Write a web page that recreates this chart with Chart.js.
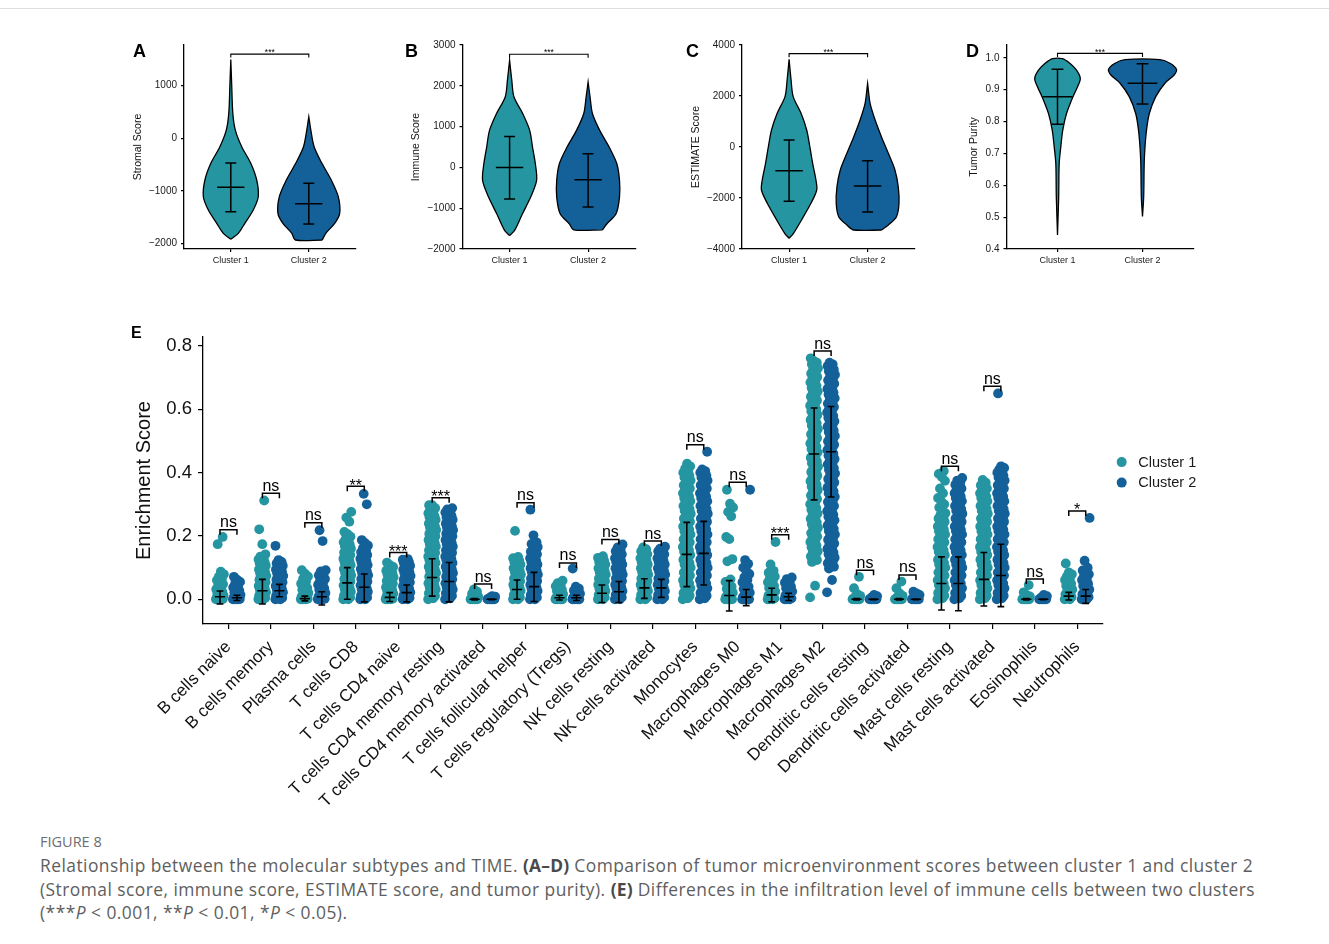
<!DOCTYPE html>
<html lang="en">
<head>
<meta charset="utf-8">
<title>Figure 8 – molecular subtypes and TIME</title>
<script src="https://cdn.jsdelivr.net/npm/chart.js@4.4.1/dist/chart.umd.min.js"></script>
<style>
  html, body { margin: 0; padding: 0; background: #fff; }
  body { position: relative; width: 1329px; height: 944px; overflow: hidden; font-family: "Liberation Sans", Arial, sans-serif; }
  .rule { position: absolute; left: 0; top: 8px; width: 1329px; border-top: 1px solid #dedede; }
  canvas { position: absolute; }
  .tag { position: absolute; font-weight: bold; font-size: 18px; line-height: 18px; color: #000; }
  .tag.big { font-size: 16px; line-height: 16px; }
  .figno { position: absolute; left: 40px; top: 834px; font-family: "Open Sans", sans-serif; font-size: 14.5px; line-height: 16px; color: #6d6e71; }
  .caption { position: absolute; left: 40px; top: 854px; font-family: "Open Sans", sans-serif; font-size: 17.4px; letter-spacing: 0.46px; line-height: 23.7px; color: #5e5e5e; white-space: nowrap; }
  .caption b { font-weight: 700; color: #4a4a4a; letter-spacing: 0.2px; }
</style>
</head>
<body>
<div class="rule"></div>

<canvas id="stromal"></canvas>
<canvas id="immune"></canvas>
<canvas id="estimate"></canvas>
<canvas id="purity"></canvas>
<canvas id="infiltration"></canvas>

<div class="tag" style="left:133px;top:42px">A</div>
<div class="tag" style="left:405px;top:42px">B</div>
<div class="tag" style="left:686px;top:42px">C</div>
<div class="tag" style="left:966px;top:42px">D</div>
<div class="tag big" style="left:131px;top:325px">E</div>

<div class="figno">FIGURE 8</div>
<div class="caption">Relationship between the molecular subtypes and TIME. <b>(A–D)</b> Comparison of tumor microenvironment scores between cluster 1 and cluster 2<br>(Stromal score, immune score, ESTIMATE score, and tumor purity). <b>(E)</b> Differences in the infiltration level of immune cells between two clusters<br>(***<i>P</i> &lt; 0.001, **<i>P</i> &lt; 0.01, *<i>P</i> &lt; 0.05).</div>

<script>
// ---------------------------------------------------------------------------
// Data
// ---------------------------------------------------------------------------
const groups = ['Cluster 1', 'Cluster 2'];

// A – Stromal score: violin outline (score level, relative density), mean ± SD
const stromalLevels1 = [1499, 1000, 474, 157, -159, -474, -791, -1108, -1360, -1613, -1803, -1917];
const stromalDensity1 = [0, .03, .065, .145, .35, .64, .83, .88, .72, .45, .24, 0];
const stromalLevels2 = [410, 157, -159, -474, -791, -1108, -1423, -1613, -1803, -1930];
const stromalDensity2 = [0, .065, .17, .42, .72, .945, .99, .83, .545, .43];
const stromalMean = [-930, -1241];
const stromalLow = [-1395, -1626];
const stromalHigh = [-468, -854];
const stromalTicks = [-2000, -1000, 0, 1000];

// B – Immune score
const immuneLevels1 = [2625, 2134, 1725, 1316, 908, 499, 90, -319, -728, -1137, -1545, -1668];
const immuneDensity1 = [0, .07, .14, .42, .64, .73, .82, .86, .67, .41, .16, 0];
const immuneLevels2 = [2093, 1725, 1316, 908, 499, 90, -319, -728, -1137, -1382, -1529];
const immuneDensity2 = [0, .063, .14, .37, .67, .915, 1.0, 1.0, .89, .6, .46];
const immuneMean = [0, -300];
const immuneLow = [-777, -973];
const immuneHigh = [760, 335];
const immuneTicks = [-2000, -1000, 0, 1000, 2000, 3000];

// C – ESTIMATE score
const estimateLevels1 = [3438, 2627, 1974, 1320, 667, 13, -641, -1294, -1686, -2209, -2863, -3386, -3582];
const estimateDensity1 = [0, .063, .13, .38, .56, .66, .75, .855, .88, .695, .395, .14, 0];
const estimateLevels2 = [2497, 1712, 1059, 405, -248, -902, -1556, -2209, -2732, -3059, -3255];
const estimateDensity2 = [0, .08, .24, .44, .66, .87, .975, 1.0, .92, .66, .44];
const estimateMean = [-928, -1529];
const estimateLow = [-2131, -2549];
const estimateHigh = [275, -536];
const estimateTicks = [-4000, -2000, 0, 2000, 4000];

// D – Tumor purity
const purityLevels1 = [0.997, 0.982, 0.961, 0.935, 0.909, 0.878, 0.825, 0.773, 0.721, 0.669, 0.564, 0.444];
const purityDensity1 = [.14, .37, .56, .67, .59, .455, .265, .155, .098, .05, .035, 0];
const purityLevels2 = [0.994, 0.982, 0.963, 0.946, 0.92, 0.878, 0.825, 0.773, 0.721, 0.669, 0.564, 0.502];
const purityDensity2 = [.515, .82, 1.0, .93, .66, .39, .2, .118, .074, .05, .035, 0];
const purityMean = [0.878, 0.920];
const purityLow = [0.791, 0.855];
const purityHigh = [0.964, 0.981];
const purityTicks = [0.4, 0.5, 0.6, 0.7, 0.8, 0.9, 1.0];

// Significance between the clusters in A–D (label, bracket height)
const scoreSig = ['***', '***', '***', '***'];
const scoreSigHeight = [1600, 2772, 3660, 1.0136];

// E – CIBERSORT immune cell infiltration
const cellTypes = [
  'B cells naive', 'B cells memory', 'Plasma cells', 'T cells CD8', 'T cells CD4 naive',
  'T cells CD4 memory resting', 'T cells CD4 memory activated', 'T cells follicular helper',
  'T cells regulatory (Tregs)', 'NK cells resting', 'NK cells activated', 'Monocytes',
  'Macrophages M0', 'Macrophages M1', 'Macrophages M2', 'Dendritic cells resting',
  'Dendritic cells activated', 'Mast cells resting', 'Mast cells activated', 'Eosinophils', 'Neutrophils'
];
const enrichmentTicks = [0, 0.2, 0.4, 0.6, 0.8];

// per-sample enrichment scores, one row per cell type (same order as cellTypes)
const cluster1Scores = [
  [0,0,0,.001,.003,.005,.007,.01,.012,.015,.019,.023,.027,.032,.037,.042,.048,.054,.06,.066,.071,.079,.087,.174,.197],
  [0,0,.002,.005,.008,.011,.014,.018,.022,.026,.03,.034,.038,.042,.046,.05,.054,.058,.062,.066,.07,.074,.078,.082,.086,.09,.094,.098,.102,.106,.11,.114,.118,.122,.126,.13,.135,.142,.174,.221,.312],
  [0,0,0,.002,.005,.008,.012,.016,.02,.025,.03,.036,.042,.049,.056,.064,.072,.081,.092],
  [0,0,.003,.006,.009,.012,.016,.02,.024,.028,.032,.036,.04,.044,.048,.052,.056,.06,.064,.068,.072,.076,.08,.084,.088,.092,.096,.1,.104,.108,.112,.116,.12,.124,.128,.132,.136,.14,.144,.148,.152,.156,.16,.164,.168,.172,.176,.18,.185,.19,.198,.206,.213,.245,.258,.276],
  [0,0,0,.002,.005,.008,.011,.014,.018,.022,.026,.03,.034,.038,.042,.046,.05,.054,.058,.062,.066,.07,.074,.078,.082,.086,.09,.094,.098,.102,.108,.116],
  [0,.003,.007,.011,.015,.019,.023,.027,.031,.035,.039,.043,.047,.051,.055,.059,.063,.067,.071,.075,.079,.083,.087,.091,.095,.099,.103,.107,.111,.115,.119,.123,.127,.131,.135,.139,.143,.147,.151,.155,.159,.163,.167,.171,.175,.179,.183,.187,.191,.195,.199,.203,.207,.211,.215,.219,.223,.227,.231,.235,.239,.243,.247,.251,.255,.259,.263,.267,.272,.277,.282,.288,.297,.297],
  [0,0,0,0,0,.002,.004,.006,.009,.013,.018,.024,.031],
  [0,0,.003,.006,.01,.014,.018,.022,.026,.03,.034,.038,.042,.046,.05,.054,.058,.062,.066,.07,.074,.078,.082,.086,.09,.094,.098,.102,.106,.11,.114,.118,.122,.126,.13,.134,.216],
  [0,0,0,0,.002,.005,.009,.013,.017,.021,.026,.031,.036,.041,.046,.051,.059],
  [0,0,.003,.006,.01,.014,.018,.022,.026,.03,.034,.038,.042,.046,.05,.054,.058,.062,.066,.07,.074,.078,.082,.086,.09,.094,.098,.102,.106,.11,.114,.118,.122,.126,.131,.136],
  [0,0,.003,.006,.01,.014,.018,.022,.026,.03,.034,.038,.042,.046,.05,.054,.058,.062,.066,.07,.074,.078,.082,.086,.09,.094,.098,.102,.106,.11,.114,.118,.122,.126,.13,.134,.138,.142,.147,.152,.158,.164],
  [0,.003,.007,.011,.015,.02,.025,.03,.035,.04,.045,.05,.055,.06,.065,.07,.075,.08,.085,.09,.095,.1,.105,.11,.115,.12,.125,.13,.135,.14,.145,.15,.155,.16,.165,.17,.175,.18,.185,.19,.195,.2,.205,.21,.215,.22,.225,.23,.235,.24,.245,.25,.255,.26,.265,.27,.275,.28,.285,.29,.295,.3,.305,.31,.315,.32,.325,.33,.335,.34,.345,.35,.355,.36,.365,.37,.375,.38,.385,.39,.395,.4,.406,.413,.42,.428],
  [0,0,0,0,.003,.007,.011,.016,.021,.027,.033,.04,.047,.055,.063,.12,.127,.19,.197,.262,.276,.29,.302,.346],
  [0,0,0,.003,.007,.011,.015,.02,.025,.03,.036,.042,.048,.054,.06,.066,.072,.078,.084,.09,.11,.181],
  [.006,.043,.118,.124,.13,.135,.141,.147,.152,.158,.164,.169,.175,.181,.186,.192,.198,.203,.209,.215,.22,.226,.232,.237,.243,.249,.254,.26,.266,.271,.277,.283,.288,.294,.3,.305,.311,.317,.322,.328,.334,.339,.345,.351,.356,.362,.368,.373,.379,.385,.39,.396,.402,.407,.413,.419,.424,.43,.436,.441,.447,.453,.458,.464,.47,.475,.481,.487,.492,.498,.504,.509,.515,.521,.526,.532,.538,.543,.549,.555,.56,.566,.572,.577,.583,.589,.594,.6,.606,.611,.617,.623,.628,.634,.64,.645,.651,.657,.662,.668,.674,.679,.685,.691,.696,.702,.708,.713,.719,.725,.73,.736,.742,.747,.753,.761],
  [0,0,0,0,0,.002,.004,.007,.011,.017,.035,.071],
  [0,0,0,0,0,.002,.004,.007,.011,.019,.035,.056],
  [0,.003,.007,.011,.015,.02,.025,.03,.035,.04,.045,.05,.055,.06,.065,.07,.075,.08,.085,.09,.095,.1,.105,.11,.115,.12,.125,.13,.135,.14,.145,.15,.155,.16,.165,.17,.175,.18,.185,.19,.195,.2,.205,.21,.215,.22,.225,.23,.235,.24,.245,.25,.255,.26,.266,.272,.28,.29,.3,.31,.32,.335,.35,.374,.386,.396,.405],
  [0,.003,.007,.011,.015,.02,.025,.03,.035,.04,.045,.05,.055,.06,.065,.07,.075,.08,.085,.09,.095,.1,.105,.11,.115,.12,.125,.13,.135,.14,.145,.15,.155,.16,.165,.17,.175,.18,.185,.19,.195,.2,.205,.21,.215,.22,.225,.23,.235,.24,.245,.25,.255,.26,.265,.27,.275,.28,.285,.29,.295,.3,.305,.31,.315,.32,.325,.33,.335,.34,.345,.35,.355,.36,.368,.377],
  [0,0,0,0,0,.002,.004,.006,.009,.013,.022,.045],
  [0,0,.003,.007,.011,.016,.021,.026,.031,.037,.043,.049,.055,.061,.067,.073,.079,.085,.113]
];
const cluster2Scores = [
  [0,0,0,.001,.003,.005,.008,.011,.014,.018,.022,.027,.032,.037,.043,.049,.055,.062,.071],
  [0,0,.002,.005,.008,.011,.014,.018,.022,.026,.03,.034,.038,.042,.046,.05,.054,.058,.062,.066,.07,.074,.078,.082,.086,.09,.094,.098,.102,.106,.11,.114,.118,.124,.169],
  [0,0,0,.002,.005,.008,.012,.016,.02,.025,.03,.035,.04,.046,.052,.058,.064,.07,.076,.082,.088,.092,.184,.218],
  [0,0,.003,.006,.009,.012,.016,.02,.024,.028,.032,.036,.04,.044,.048,.052,.056,.06,.064,.068,.072,.076,.08,.084,.088,.092,.096,.1,.104,.108,.112,.116,.12,.124,.128,.132,.136,.14,.144,.149,.155,.162,.17,.178,.187,.3,.333],
  [0,0,.002,.005,.008,.011,.014,.018,.022,.026,.03,.034,.038,.042,.046,.05,.054,.058,.062,.066,.07,.074,.078,.082,.086,.09,.094,.098,.102,.106,.11,.114,.118,.122,.125,.127],
  [0,.003,.007,.011,.015,.019,.023,.027,.031,.035,.039,.043,.047,.051,.055,.059,.063,.067,.071,.075,.079,.083,.087,.091,.095,.099,.103,.107,.111,.115,.119,.123,.127,.131,.135,.139,.143,.147,.151,.155,.159,.163,.167,.171,.175,.179,.183,.187,.191,.195,.199,.203,.207,.211,.215,.219,.223,.227,.231,.235,.239,.243,.247,.251,.255,.259,.264,.269,.274,.279,.284,.288],
  [0,0,0,0,0,.002,.004,.006,.008,.01],
  [0,0,.003,.006,.01,.014,.018,.022,.026,.03,.034,.038,.042,.046,.05,.054,.058,.062,.066,.07,.074,.078,.082,.086,.09,.094,.098,.102,.106,.11,.114,.118,.122,.126,.13,.134,.138,.142,.146,.15,.155,.16,.165,.17,.175,.18,.202,.283],
  [0,0,0,0,.002,.005,.009,.013,.018,.023,.028,.034,.04,.097],
  [0,0,.003,.006,.01,.014,.018,.022,.026,.03,.034,.038,.042,.046,.05,.054,.058,.062,.066,.07,.074,.078,.082,.086,.09,.094,.098,.102,.106,.11,.114,.118,.122,.126,.13,.134,.138,.142,.147,.152,.158,.164,.173],
  [0,0,.003,.006,.01,.014,.018,.022,.026,.03,.034,.038,.042,.046,.05,.054,.058,.062,.066,.07,.074,.078,.082,.086,.09,.094,.098,.102,.106,.11,.114,.118,.122,.126,.13,.134,.138,.142,.147,.152,.156,.16,.166],
  [0,.003,.007,.011,.015,.02,.025,.03,.035,.04,.045,.05,.055,.06,.065,.07,.075,.08,.085,.09,.095,.1,.105,.11,.115,.12,.125,.13,.135,.14,.145,.15,.155,.16,.165,.17,.175,.18,.185,.19,.195,.2,.205,.21,.215,.22,.225,.23,.235,.24,.245,.25,.255,.26,.265,.27,.275,.28,.285,.29,.295,.3,.305,.31,.315,.32,.325,.33,.335,.34,.345,.35,.355,.36,.365,.37,.375,.38,.385,.39,.395,.4,.405,.41,.466],
  [0,0,0,0,.003,.007,.011,.016,.021,.027,.033,.04,.047,.054,.062,.07,.08,.09,.1,.112,.124,.346],
  [0,0,0,.003,.007,.011,.015,.02,.025,.03,.035,.04,.046,.052,.058,.064,.069],
  [.022,.061,.097,.103,.108,.114,.12,.125,.131,.137,.142,.148,.154,.159,.165,.171,.176,.182,.188,.193,.199,.205,.21,.216,.222,.227,.233,.239,.244,.25,.256,.261,.267,.273,.278,.284,.29,.295,.301,.307,.312,.318,.324,.329,.335,.341,.346,.352,.358,.363,.369,.375,.38,.386,.392,.397,.403,.409,.414,.42,.426,.431,.437,.443,.448,.454,.46,.465,.471,.477,.482,.488,.494,.499,.505,.511,.516,.522,.528,.533,.539,.545,.55,.556,.562,.567,.573,.579,.584,.59,.596,.601,.607,.613,.618,.624,.63,.635,.641,.647,.652,.658,.664,.669,.675,.681,.686,.692,.698,.703,.709,.715,.72,.726,.732,.737,.742,.747],
  [0,0,0,0,0,.002,.004,.007,.01,.014],
  [0,0,0,0,0,.002,.005,.009,.014,.019,.024],
  [0,.003,.007,.011,.015,.02,.025,.03,.035,.04,.045,.05,.055,.06,.065,.07,.075,.08,.085,.09,.095,.1,.105,.11,.115,.12,.125,.13,.135,.14,.145,.15,.155,.16,.165,.17,.175,.18,.185,.19,.195,.2,.205,.21,.215,.22,.225,.23,.235,.24,.245,.25,.255,.26,.265,.27,.275,.28,.285,.29,.295,.3,.305,.31,.315,.32,.325,.33,.335,.34,.345,.35,.356,.362,.368,.375,.383],
  [0,.003,.007,.011,.015,.02,.025,.03,.035,.04,.045,.05,.055,.06,.065,.07,.075,.08,.085,.09,.095,.1,.105,.11,.115,.12,.125,.13,.135,.14,.145,.15,.155,.16,.165,.17,.175,.18,.185,.19,.195,.2,.205,.21,.215,.22,.225,.23,.235,.24,.245,.25,.255,.26,.265,.27,.275,.28,.285,.29,.295,.3,.305,.31,.315,.32,.325,.33,.335,.34,.345,.35,.355,.36,.365,.37,.375,.38,.385,.39,.395,.4,.405,.41,.415,.42,.65],
  [0,0,0,0,0,.002,.004,.007,.01,.014],
  [0,0,.003,.007,.011,.016,.021,.026,.031,.037,.043,.049,.055,.061,.067,.073,.079,.085,.091,.1,.122,.257]
];

// mean and mean ± SD per cell type
const cluster1Mean = [.008,.027,.002,.052,.006,.069,0,.031,.005,.019,.036,.142,.012,.014,.459,0,0,.05,.063,0,.01];
const cluster1Low  = [-.015,-.015,-.005,0,-.007,.01,-.002,0,-.002,-.01,.003,.04,-.037,-.008,.314,-.002,-.002,-.034,-.021,-.002,-.002];
const cluster1High = [.026,.063,.01,.1,.021,.128,.002,.061,.013,.045,.065,.243,.059,.035,.604,.002,.002,.134,.148,.002,.022];
const cluster2Mean = [.005,.027,.008,.038,.021,.056,0,.04,.005,.024,.036,.145,.007,.008,.466,0,0,.05,.075,0,.01];
const cluster2Low  = [-.004,.008,-.018,-.008,-.008,-.008,-.001,-.007,-.004,-.01,.006,.045,-.02,-.004,.323,-.001,-.001,-.036,-.023,-.001,-.013];
const cluster2High = [.013,.047,.024,.08,.045,.116,.001,.085,.013,.056,.063,.246,.031,.019,.609,.001,.001,.134,.174,.001,.031];

// Wilcoxon test result per cell type and bracket height
const cellSig = ['ns','ns','ns','**','***','***','ns','ns','ns','ns','ns','ns','ns','***','ns','ns','ns','ns','ns','ns','*'];
const cellSigHeight = [.22,.335,.242,.357,.148,.321,.048,.305,.115,.189,.184,.488,.37,.204,.784,.092,.077,.42,.673,.064,.279];

// ---------------------------------------------------------------------------
// Drawing helpers
// ---------------------------------------------------------------------------
const FONT = '"Liberation Sans", Arial, Helvetica, sans-serif';
Chart.defaults.font.family = FONT;
Chart.defaults.color = '#1a1a1a';

const TEAL = '#2596a1';
const NAVY = '#14619a';
const INK = '#000000';
const COLORS = [TEAL, NAVY];
const VIOLIN_HALF = 0.4;      // half-width (category units) at density 1
const CROSSBAR_HALF = 0.175;
const CAP_HALF = 0.07;

const minus = v => String(v).replace('-', '\u2212');

function place(id, box) {
  const cv = document.getElementById(id);
  cv.width = box.w;
  cv.height = box.h;
  cv.style.left = box.x + 'px';
  cv.style.top = box.y + 'px';
  return cv;
}

// padding / axis sizes that put the plotting area at a fixed spot in the canvas
function frame(box, area) {
  return {
    padding: { left: 0, top: area.t - box.y, right: box.x + box.w - area.r, bottom: 0 },
    yWidth: area.l - box.x,
    xHeight: box.y + box.h - area.b
  };
}

function axisLines(tickLength) {
  return {
    grid: { display: true, drawOnChartArea: false, drawTicks: true, tickLength, color: INK, lineWidth: 1.2 },
    border: { display: true, color: INK, width: 1.3 }
  };
}

// closed violin outline: right side upwards, left side downwards
function violinOutline(center, levels, density) {
  const pts = [];
  for (let i = levels.length - 1; i >= 0; i--) pts.push({ x: center + density[i] * VIOLIN_HALF, y: levels[i] });
  for (let i = 0; i < levels.length; i++) pts.push({ x: center - density[i] * VIOLIN_HALF, y: levels[i] });
  pts.push({ ...pts[0] });
  return pts;
}

// whisker (low–high with caps) plus a crossbar at the mean; null y breaks the path
function whiskerPath(x, mean, low, high, capHalf, barHalf) {
  return [
    { x, y: low }, { x, y: high }, { x, y: null },
    { x: x - capHalf, y: low }, { x: x + capHalf, y: low }, { x, y: null },
    { x: x - capHalf, y: high }, { x: x + capHalf, y: high }, { x, y: null },
    { x: x - barHalf, y: mean }, { x: x + barHalf, y: mean }
  ];
}

// significance brackets with their labels
function bracketPlugin(items, style) {
  return {
    id: 'sigBrackets',
    afterDatasetsDraw(chart) {
      const { ctx, scales: { x, y } } = chart;
      ctx.save();
      ctx.strokeStyle = INK;
      ctx.lineWidth = style.lineWidth;
      ctx.fillStyle = INK;
      ctx.font = style.fontSize + 'px ' + FONT;
      ctx.textAlign = 'center';
      ctx.textBaseline = 'alphabetic';
      items.forEach(it => {
        const x1 = x.getPixelForValue(it.x1);
        const x2 = x.getPixelForValue(it.x2);
        const yy = y.getPixelForValue(it.y);
        ctx.beginPath();
        ctx.moveTo(x1, yy + style.tip);
        ctx.lineTo(x1, yy);
        ctx.lineTo(x2, yy);
        ctx.lineTo(x2, yy + style.tip);
        ctx.stroke();
        const star = it.label.indexOf('*') >= 0;
        const base = yy - style.gap + (star ? 0.43 * style.fontSize : 0);
        ctx.fillText(it.label, (x1 + x2) / 2, base);
      });
      ctx.restore();
    }
  };
}

// ---------------------------------------------------------------------------
// A–D violin panels
// ---------------------------------------------------------------------------
function violinPanel(p) {
  const cv = place(p.id, p.box);
  const fr = frame(p.box, p.area);
  const datasets = [];
  [0, 1].forEach(g => {
    datasets.push({
      label: groups[g] + ' summary',
      data: whiskerPath(g + 1, p.mean[g], p.low[g], p.high[g], CAP_HALF, CROSSBAR_HALF),
      borderColor: INK, borderWidth: 1.5, pointRadius: 0, fill: false, tension: 0, spanGaps: false, order: 0
    });
  });
  [0, 1].forEach(g => {
    datasets.push({
      label: groups[g],
      data: violinOutline(g + 1, p.levels[g], p.density[g]),
      borderColor: INK, borderWidth: 1.3, backgroundColor: COLORS[g],
      fill: 'shape', pointRadius: 0, tension: 0.3, order: 1
    });
  });
  const lines = axisLines(3);
  return new Chart(cv, {
    type: 'line',
    data: { datasets },
    options: {
      responsive: false, animation: false, events: [], devicePixelRatio: 1,
      layout: { padding: fr.padding, autoPadding: false },
      plugins: { legend: { display: false }, tooltip: { enabled: false } },
      scales: {
        x: {
          type: 'linear', min: 0.4, max: 2.6,
          afterFit: s => { s.height = fr.xHeight; },
          afterBuildTicks: ax => { ax.ticks = [1, 2].map(v => ({ value: v })); },
          ticks: { callback: v => groups[v - 1], font: { size: 9 }, color: '#1a1a1a', padding: 3, maxRotation: 0, autoSkip: false },
          ...lines
        },
        y: {
          type: 'linear', min: p.min, max: p.max,
          afterFit: s => { s.width = fr.yWidth; },
          afterBuildTicks: ax => { ax.ticks = p.ticks.map(v => ({ value: v })); },
          ticks: { callback: p.format, font: { size: 10 }, color: '#1a1a1a', padding: 4, autoSkip: false },
          title: { display: true, text: p.title, font: { size: 10.5 }, padding: 0, color: '#111' },
          ...lines
        }
      }
    },
    plugins: [bracketPlugin([{ x1: 1, x2: 2, y: p.sigY, label: p.sig }], { lineWidth: 1.1, tip: 3.5, gap: 2.5, fontSize: 8.5 })]
  });
}

violinPanel({
  id: 'stromal', title: 'Stromal Score',
  box: { x: 132, y: 30, w: 248, h: 244 }, area: { l: 184, t: 45, r: 355.6, b: 249 },
  min: -2101, max: 1773, ticks: stromalTicks, format: v => minus(v),
  levels: [stromalLevels1, stromalLevels2], density: [stromalDensity1, stromalDensity2],
  mean: stromalMean, low: stromalLow, high: stromalHigh, sig: scoreSig[0], sigY: scoreSigHeight[0]
});
violinPanel({
  id: 'immune', title: 'Immune Score',
  box: { x: 410, y: 30, w: 250, h: 244 }, area: { l: 462.5, t: 45, r: 635.2, b: 249 },
  min: -2000, max: 3000, ticks: immuneTicks, format: v => minus(v),
  levels: [immuneLevels1, immuneLevels2], density: [immuneDensity1, immuneDensity2],
  mean: immuneMean, low: immuneLow, high: immuneHigh, sig: scoreSig[1], sigY: scoreSigHeight[1]
});
violinPanel({
  id: 'estimate', title: 'ESTIMATE Score',
  box: { x: 690, y: 30, w: 250, h: 244 }, area: { l: 742, t: 45, r: 914.7, b: 249 },
  min: -4000, max: 4000, ticks: estimateTicks, format: v => minus(v),
  levels: [estimateLevels1, estimateLevels2], density: [estimateDensity1, estimateDensity2],
  mean: estimateMean, low: estimateLow, high: estimateHigh, sig: scoreSig[2], sigY: scoreSigHeight[2]
});
violinPanel({
  id: 'purity', title: 'Tumor Purity',
  box: { x: 968, y: 30, w: 250, h: 244 }, area: { l: 1006.5, t: 45, r: 1193.5, b: 249 },
  min: 0.4, max: 1.04, ticks: purityTicks, format: v => v.toFixed(1),
  levels: [purityLevels1, purityLevels2], density: [purityDensity1, purityDensity2],
  mean: purityMean, low: purityLow, high: purityHigh, sig: scoreSig[3], sigY: scoreSigHeight[3]
});

// ---------------------------------------------------------------------------
// E – jittered dot plot with mean ± SD
// ---------------------------------------------------------------------------
const DODGE = 0.2;
const JITTER = 0.19;
const jitter = i => ((i * 0.6180339887) % 1 - 0.5) * JITTER;

function dotData(rows, shift) {
  const pts = [];
  rows.forEach((vals, c) => vals.forEach((v, i) => pts.push({ x: c + shift + jitter(i), y: v })));
  return pts;
}
function whiskerData(mean, low, high, shift) {
  const pts = [];
  mean.forEach((m, c) => {
    pts.push(...whiskerPath(c + shift, m, low[c], high[c], 0.08, 0.12), { x: c + shift, y: null });
  });
  return pts;
}

const legendPlugin = {
  id: 'clusterLegend',
  afterDraw(chart) {
    const { ctx, chartArea } = chart;
    ctx.save();
    ctx.font = '14.5px ' + FONT;
    ctx.textAlign = 'left';
    ctx.textBaseline = 'middle';
    groups.forEach((g, i) => {
      const cx = chartArea.right + 19;
      const cy = chartArea.top + 125 + i * 20.5;
      ctx.fillStyle = COLORS[i];
      ctx.beginPath();
      ctx.arc(cx, cy, 5, 0, Math.PI * 2);
      ctx.fill();
      ctx.fillStyle = '#1a1a1a';
      ctx.fillText(g, cx + 16.5, cy + 0.5);
    });
    ctx.restore();
  }
};

(function infiltrationPanel() {
  const box = { x: 132, y: 320, w: 1118, h: 510 };
  const area = { l: 203, t: 336, r: 1102.7, b: 624 };
  const cv = place('infiltration', box);
  const fr = frame(box, area);
  const lines = axisLines(5);
  const datasets = [
    { label: 'Cluster 1 mean ± SD', data: whiskerData(cluster1Mean, cluster1Low, cluster1High, -DODGE),
      borderColor: INK, borderWidth: 1.6, pointRadius: 0, fill: false, spanGaps: false, tension: 0, order: 0 },
    { label: 'Cluster 2 mean ± SD', data: whiskerData(cluster2Mean, cluster2Low, cluster2High, DODGE),
      borderColor: INK, borderWidth: 1.6, pointRadius: 0, fill: false, spanGaps: false, tension: 0, order: 0 },
    { label: groups[1], data: dotData(cluster2Scores, DODGE), showLine: false,
      pointRadius: 4.9, pointBorderWidth: 0, pointBackgroundColor: NAVY, backgroundColor: NAVY, borderColor: NAVY, order: 1 },
    { label: groups[0], data: dotData(cluster1Scores, -DODGE), showLine: false,
      pointRadius: 4.9, pointBorderWidth: 0, pointBackgroundColor: TEAL, backgroundColor: TEAL, borderColor: TEAL, order: 2 }
  ];
  const brackets = cellSig.map((s, c) => ({ x1: c - DODGE, x2: c + DODGE, y: cellSigHeight[c], label: s }));
  new Chart(cv, {
    type: 'line',
    data: { datasets },
    options: {
      responsive: false, animation: false, events: [], devicePixelRatio: 1,
      layout: { padding: fr.padding, autoPadding: false },
      plugins: { legend: { display: false }, tooltip: { enabled: false } },
      scales: {
        x: {
          type: 'linear', min: -0.6, max: cellTypes.length - 0.4,
          afterFit: s => { s.height = fr.xHeight; },
          afterBuildTicks: ax => { ax.ticks = cellTypes.map((_, i) => ({ value: i })); },
          ticks: { callback: v => cellTypes[v], font: { size: 17 }, color: '#111', padding: 8,
                   minRotation: 45, maxRotation: 45, autoSkip: false },
          ...lines
        },
        y: {
          type: 'linear', min: -0.078, max: 0.828,
          afterFit: s => { s.width = fr.yWidth; },
          afterBuildTicks: ax => { ax.ticks = enrichmentTicks.map(v => ({ value: v })); },
          ticks: { callback: v => v.toFixed(1), font: { size: 18.5 }, color: '#111', padding: 6 },
          title: { display: true, text: 'Enrichment Score', font: { size: 20 }, padding: 0, color: '#111' },
          ...lines
        }
      }
    },
    plugins: [bracketPlugin(brackets, { lineWidth: 1.5, tip: 5, gap: 2.5, fontSize: 16 }), legendPlugin]
  });
})();
</script>
</body>
</html>
